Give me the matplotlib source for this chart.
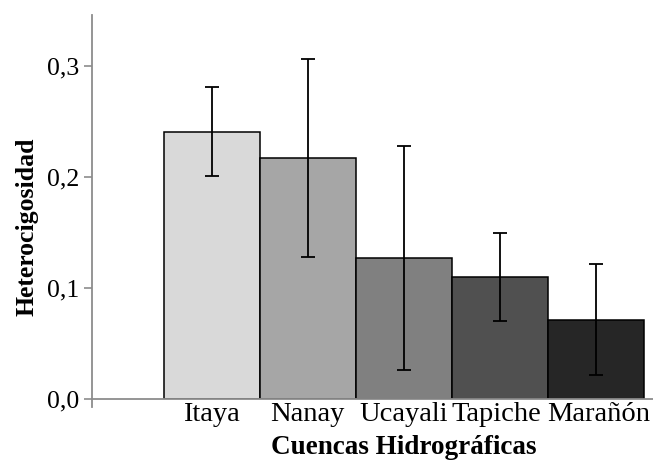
import matplotlib
matplotlib.use("Agg")
import matplotlib.pyplot as plt
from matplotlib.ticker import FuncFormatter
from matplotlib.transforms import ScaledTranslation

categories = ["Itaya", "Nanay", "Ucayali", "Tapiche", "Marañón"]
values = [0.241, 0.217, 0.127, 0.110, 0.0715]
errors = [0.040, 0.089, 0.101, 0.040, 0.050]
colors = ["#d9d9d9", "#a6a6a6", "#808080", "#505050", "#262626"]
yticks = [0.0, 0.1, 0.2, 0.3]

plt.rcParams['font.family'] = ['Liberation Serif', 'DejaVu Serif']

fig = plt.figure(figsize=(6.53, 4.62), dpi=100)
ax = fig.add_axes([92/653, 63/462, 561/653, 384/462])

x = list(range(len(categories)))
ax.bar(x, values, width=1.0, color=colors, edgecolor="black", linewidth=1.1,
       yerr=errors, capsize=5, error_kw=dict(ecolor="black", elinewidth=1.3, capthick=1.3),
       zorder=2)

ax.set_xlim(-1.25, 4.595)
ax.set_ylim(0, 0.346)
ax.set_yticks(yticks)
ax.yaxis.set_major_formatter(FuncFormatter(lambda v, p: f"{v:.1f}".replace(".", ",")))
ax.set_xticks(x)
ax.set_xticklabels(categories)

for s in ["top", "right"]:
    ax.spines[s].set_visible(False)
for s in ["left", "bottom"]:
    ax.spines[s].set_color("#8c8c8c")
    ax.spines[s].set_linewidth(1.3)
ax.spines["left"].set_bounds(-0.0075, 0.346)

ax.tick_params(axis="y", length=6, width=1.2, color="#8c8c8c", labelsize=18.5, pad=3, direction="out")
ax.tick_params(axis="x", length=0, labelsize=20.5, pad=2)

# small horizontal nudges of the category labels (pixels)
nudges = [-1, -1, 0, -3.5, 2.5]
for lab, dx in zip(ax.get_xticklabels(), nudges):
    lab.set_transform(lab.get_transform() + ScaledTranslation(dx / 100, 0, fig.dpi_scale_trans))

ax.set_xlabel("Cuencas Hidrográficas", fontsize=19.5, fontweight="bold")
ax.set_ylabel("Heterocigosidad", fontsize=18.5, fontweight="bold")
ax.xaxis.set_label_coords(0.556, -0.093)
ax.yaxis.set_label_coords(-0.096, 0.449)

fig.savefig("out.png", dpi=100)
